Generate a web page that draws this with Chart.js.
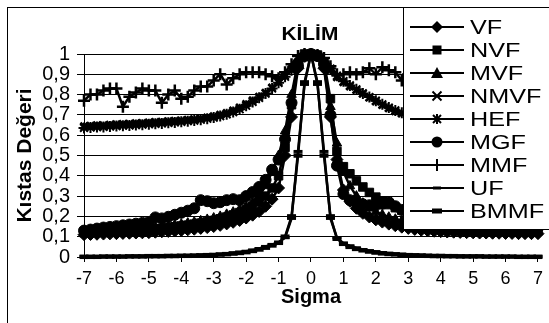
<!DOCTYPE html>
<html><head><meta charset="utf-8">
<script src="https://cdn.jsdelivr.net/npm/chart.js@4.4.1/dist/chart.umd.min.js"></script>
<style>
html,body{margin:0;padding:0;background:#fff;}
#wrap{position:relative;width:549px;height:323px;overflow:hidden;background:#fff;}
canvas{position:absolute;left:0;top:0;}
#frame{position:absolute;left:7px;top:7px;width:600px;height:400px;border:1px solid #000;pointer-events:none;}
#title{position:absolute;left:240px;width:140px;top:24px;text-align:center;font:bold 19px "Liberation Sans",Arial,sans-serif;line-height:19px;color:#000;}
#title span{display:inline-block;transform:scaleX(1.1);}
#legend{position:absolute;left:403px;top:7px;width:200px;height:221px;border:1px solid #000;background:#fff;}
.item{position:absolute;left:6px;height:22px;display:flex;align-items:center;white-space:nowrap;}
.item svg{display:block;}
.item span{font:21px "Liberation Sans",Arial,sans-serif;line-height:22px;margin-left:6px;display:inline-block;transform:scaleX(1.2);transform-origin:left center;color:#000;}
</style></head>
<body>
<div id="wrap">
<canvas id="c" width="549" height="323"></canvas>
<div id="frame"></div>
<div id="title"><span>KİLİM</span></div>
<div id="legend"></div>
</div>
<script>
const chartTitle = 'KİLİM';
const xTitle = 'Sigma';
const yTitle = 'Kıstas Değeri';
const seriesNames = ['VF','NVF','MVF','NMVF','HEF','MGF','MMF','UF','BMMF'];
const xTickLabels = ['-7','-6','-5','-4','-3','-2','-1','0','1','2','3','4','5','6','7'];
const yTickLabels = ['0','0,1','0,2','0,3','0,4','0,5','0,6','0,7','0,8','0,9','1'];

const sigma = [-7,-6.8,-6.6,-6.4,-6.2,-6,-5.8,-5.6,-5.4,-5.2,-5,-4.8,-4.6,-4.4,-4.2,-4,-3.8,-3.6,-3.4,-3.2,-3,-2.8,-2.6,-2.4,-2.2,-2,-1.8,-1.6,-1.4,-1.2,-1,-0.8,-0.6,-0.4,-0.2,0,0.2,0.4,0.6,0.8,1,1.2,1.4,1.6,1.8,2,2.2,2.4,2.6,2.8,3,3.2,3.4,3.6,3.8,4,4.2,4.4,4.6,4.8,5,5.2,5.4,5.6,5.8,6,6.2,6.4,6.6,6.8,7];

const VF = [0.110,0.111,0.112,0.113,0.114,0.115,0.116,0.117,0.118,0.119,
 0.120,0.122,0.124,0.126,0.128,0.131,0.134,0.137,0.141,0.145,
 0.150,0.156,0.163,0.171,0.180,0.192,0.206,0.224,0.250,0.285,
 0.340,0.500,0.690,0.930,0.990,1.000,0.990,0.930,0.690,0.480,
 0.330,0.275,0.240,0.215,0.197,0.183,0.172,0.162,0.154,0.147,
 0.141,0.136,0.132,0.129,0.127,0.125,0.123,0.122,0.121,0.120,
 0.119,0.118,0.118,0.117,0.117,0.116,0.116,0.115,0.115,0.115,0.115];
const NVF = [0.120,0.121,0.122,0.124,0.125,0.127,0.128,0.130,0.132,0.134,
 0.136,0.139,0.142,0.145,0.149,0.153,0.157,0.162,0.167,0.173,
 0.180,0.188,0.197,0.207,0.219,0.232,0.250,0.272,0.300,0.340,
 0.400,0.540,0.750,0.950,1.000,1.000,0.995,0.960,0.780,0.520,
 0.445,0.410,0.375,0.345,0.318,0.295,0.275,0.258,0.243,0.230,
 0.218,0.208,0.199,0.191,0.184,0.177,0.171,0.166,0.161,0.157,
 0.153,0.149,0.146,0.143,0.140,0.138,0.136,0.134,0.132,0.130,0.129];
const MVF = [0.125,0.126,0.128,0.130,0.131,0.133,0.135,0.137,0.139,0.141,
 0.144,0.147,0.150,0.154,0.158,0.162,0.167,0.172,0.178,0.185,
 0.192,0.200,0.210,0.221,0.234,0.250,0.270,0.300,0.350,0.420,
 0.500,0.620,0.800,0.960,1.000,1.000,0.990,0.940,0.740,0.560,
 0.420,0.350,0.300,0.265,0.240,0.222,0.208,0.196,0.186,0.178,
 0.171,0.165,0.160,0.156,0.152,0.149,0.146,0.143,0.141,0.139,
 0.137,0.135,0.134,0.133,0.132,0.131,0.130,0.129,0.128,0.128,0.127];
const NMVF = [0.645,0.647,0.649,0.650,0.652,0.654,0.655,0.657,0.659,0.661,
 0.663,0.665,0.667,0.669,0.671,0.673,0.676,0.679,0.683,0.688,
 0.694,0.701,0.710,0.722,0.737,0.754,0.772,0.790,0.810,0.835,
 0.862,0.892,0.925,0.960,0.990,1.000,0.985,0.955,0.920,0.885,
 0.860,0.840,0.822,0.805,0.785,0.765,0.748,0.732,0.718,0.706,
 0.695,0.685,0.676,0.668,0.660,0.653,0.646,0.640,0.634,0.628,
 0.623,0.618,0.613,0.609,0.605,0.601,0.598,0.595,0.592,0.589,0.587];
const HEF = [0.636,0.638,0.640,0.641,0.643,0.645,0.647,0.648,0.650,0.652,
 0.654,0.656,0.658,0.661,0.663,0.666,0.669,0.672,0.676,0.681,
 0.687,0.694,0.703,0.714,0.728,0.745,0.764,0.784,0.805,0.830,
 0.858,0.888,0.920,0.955,0.985,1.000,0.990,0.962,0.928,0.893,
 0.866,0.845,0.826,0.806,0.788,0.770,0.752,0.736,0.722,0.710,
 0.699,0.689,0.680,0.671,0.663,0.656,0.649,0.643,0.637,0.631,
 0.626,0.621,0.616,0.612,0.608,0.604,0.600,0.597,0.594,0.591,0.589];
const MGF = [0.130,0.135,0.140,0.145,0.148,0.152,0.156,0.160,0.164,0.168,
 0.172,0.195,0.190,0.198,0.208,0.218,0.228,0.240,0.280,0.275,
 0.265,0.270,0.280,0.285,0.280,0.300,0.320,0.345,0.380,0.430,
 0.480,0.580,0.760,0.940,0.990,1.000,0.990,0.950,0.700,0.450,
 0.310,0.280,0.265,0.260,0.255,0.255,0.262,0.270,0.250,0.232,
 0.225,0.218,0.212,0.206,0.200,0.195,0.190,0.185,0.180,0.176,
 0.172,0.168,0.165,0.162,0.159,0.156,0.153,0.150,0.148,0.146,0.144];
const MMF = [0.77,0.80,0.80,0.82,0.83,0.83,0.74,0.79,0.81,0.83,
 0.82,0.82,0.76,0.80,0.82,0.78,0.79,0.82,0.84,0.84,
 0.87,0.90,0.85,0.88,0.90,0.91,0.91,0.91,0.90,0.89,
 0.88,0.91,0.95,0.99,1.00,1.00,0.995,0.98,0.94,0.90,
 0.90,0.91,0.90,0.91,0.93,0.90,0.935,0.92,0.91,0.87,
 0.90,0.91,0.92,0.90,0.88,0.91,0.92,0.90,0.89,0.91,
 0.92,0.90,0.88,0.91,0.90,0.92,0.91,0.89,0.90,0.91,0.90];
const UF = [0.002,0.002,0.002,0.003,0.003,0.003,0.003,0.004,0.004,0.004,
 0.005,0.005,0.005,0.006,0.006,0.007,0.008,0.008,0.009,0.010,
 0.012,0.014,0.017,0.020,0.024,0.028,0.034,0.042,0.052,0.062,
 0.072,0.095,0.190,0.520,0.850,1.000,0.850,0.520,0.190,0.095,
 0.068,0.055,0.045,0.037,0.031,0.026,0.022,0.018,0.015,0.013,
 0.011,0.010,0.009,0.008,0.007,0.006,0.006,0.005,0.005,0.004,
 0.004,0.004,0.003,0.003,0.003,0.003,0.002,0.002,0.002,0.002,0.002];
const BMMF = [0.001,0.001,0.001,0.002,0.002,0.002,0.002,0.003,0.003,0.003,
 0.004,0.004,0.004,0.005,0.005,0.006,0.006,0.007,0.008,0.009,
 0.010,0.012,0.014,0.017,0.020,0.024,0.030,0.037,0.046,0.057,
 0.070,0.100,0.200,0.500,0.860,1.000,0.860,0.500,0.200,0.090,
 0.065,0.050,0.040,0.033,0.027,0.022,0.018,0.015,0.013,0.011,
 0.009,0.008,0.007,0.006,0.005,0.005,0.004,0.004,0.003,0.003,
 0.003,0.003,0.002,0.002,0.002,0.002,0.002,0.001,0.001,0.001,0.001];

const seriesValues = [VF,NVF,MVF,NMVF,HEF,MGF,MMF,UF,BMMF];

// marker styles (presentation only)
const markerStyles = [
  {style:'rectRot', r:6, bw:1},
  {style:'rect', r:6, bw:1},
  {style:'triangle', r:5.5, bw:1},
  {style:'crossRot', r:5, bw:2.5},
  {style:'star', r:5.5, bw:2},
  {style:'circle', r:5.5, bw:1},
  {style:'cross', r:6, bw:2.5},
  {style:'line', r:4.5, bw:3},
  {style:'line', r:4.5, bw:4.5}
];

document.getElementById('title').firstChild.textContent = chartTitle;

Chart.defaults.font.family = '"Liberation Sans", Arial, sans-serif';
Chart.defaults.color = '#000';

const datasets = seriesNames.map((name, i) => ({
  label: name,
  data: sigma.map((s, j) => ({x: s, y: seriesValues[i][j]})),
  borderColor: '#000',
  backgroundColor: '#000',
  borderWidth: 2.5,
  pointStyle: markerStyles[i].style,
  pointRadius: markerStyles[i].r,
  pointBorderWidth: markerStyles[i].bw,
  pointBackgroundColor: '#000',
  pointBorderColor: '#000',
  tension: 0,
  clip: false
}));

new Chart(document.getElementById('c'), {
  type: 'line',
  data: {datasets},
  options: {
    responsive: false,
    animation: false,
    devicePixelRatio: 1,
    layout: {padding: {left: 0, right: 9, top: 54, bottom: 0}},
    plugins: {legend: {display: false}, title: {display: false}, tooltip: {enabled: false}},
    scales: {
      x: {
        type: 'linear', min: -7, max: 7,
        ticks: {stepSize: 1, autoSkip: false, font: {size: 18}, padding: 6, color: '#000', maxRotation: 0,
          callback: (v) => xTickLabels[Math.round(v) + 7]},
        grid: {drawOnChartArea: false, drawTicks: true, tickLength: 5, color: '#000', lineWidth: 1},
        border: {display: true, color: '#000', width: 1},
        title: {display: true, text: xTitle, font: {size: 20, weight: 'bold'}, padding: {top: 0, bottom: 14}, color: '#000'},
        afterFit: (s) => { s.height = 66; }
      },
      y: {
        type: 'linear', min: 0, max: 1,
        ticks: {stepSize: 0.1, autoSkip: false, font: {size: 20}, padding: 7, color: '#000',
          callback: (v) => yTickLabels[Math.round(v * 10)]},
        grid: {drawOnChartArea: true, drawTicks: true, tickLength: 7, color: '#000', lineWidth: 1},
        border: {display: true, color: '#000', width: 1},
        title: {display: true, text: yTitle, font: {size: 21, weight: 'bold'}, padding: {top: 13, bottom: 0}, color: '#000'},
        afterFit: (s) => { s.width = 84; }
      }
    }
  }
});

// legend overlay
function markerSvg(i) {
  const cx = 27, cy = 11;
  let m = '';
  switch (i) {
    case 0: m = `<polygon points="${cx},${cy-6} ${cx+6},${cy} ${cx},${cy+6} ${cx-6},${cy}" fill="#000"/>`; break;
    case 1: m = `<rect x="${cx-4.5}" y="${cy-4.5}" width="9" height="9" fill="#000"/>`; break;
    case 2: m = `<polygon points="${cx},${cy-6} ${cx+6},${cy+5} ${cx-6},${cy+5}" fill="#000"/>`; break;
    case 3: m = `<path d="M${cx-4.5} ${cy-4.5}L${cx+4.5} ${cy+4.5}M${cx+4.5} ${cy-4.5}L${cx-4.5} ${cy+4.5}" stroke="#000" stroke-width="2"/>`; break;
    case 4: m = `<path d="M${cx-4} ${cy-4}L${cx+4} ${cy+4}M${cx+4} ${cy-4}L${cx-4} ${cy+4}M${cx} ${cy-5}L${cx} ${cy+5}" stroke="#000" stroke-width="2"/>`; break;
    case 5: m = `<circle cx="${cx}" cy="${cy}" r="5.5" fill="#000"/>`; break;
    case 6: m = `<path d="M${cx} ${cy-6}L${cx} ${cy+6}" stroke="#000" stroke-width="2"/>`; break;
    case 7: m = `<rect x="${cx-4}" y="${cy-1.5}" width="8" height="3" fill="#000"/>`; break;
    case 8: m = `<rect x="${cx-5}" y="${cy-2.5}" width="10" height="5" fill="#000"/>`; break;
  }
  return `<svg width="54" height="22" viewBox="0 0 54 22"><line x1="0" y1="11" x2="54" y2="11" stroke="#000" stroke-width="2"/>${m}</svg>`;
}
const leg = document.getElementById('legend');
seriesNames.forEach((name, i) => {
  const d = document.createElement('div');
  d.className = 'item';
  d.style.top = (7.5 + 23 * i) + 'px';
  d.innerHTML = markerSvg(i);
  const sp = document.createElement('span');
  sp.textContent = name;
  d.appendChild(sp);
  leg.appendChild(d);
});
</script>
</body></html>
